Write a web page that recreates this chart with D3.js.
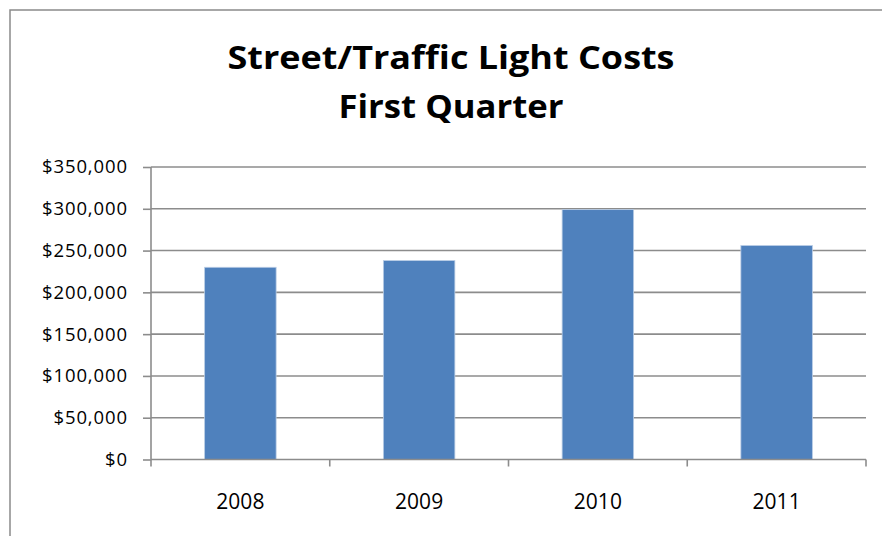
<!DOCTYPE html>
<html>
<head>
<meta charset="utf-8">
<script src="https://cdn.jsdelivr.net/npm/d3@7"></script>
<style>
  body { margin: 0; background: #fff; }
  text { font-family: "Open Sans", sans-serif; fill: #000; }
</style>
</head>
<body>
<svg id="chart"></svg>
<script>
// chart data
const years = ["2008", "2009", "2010", "2011"];
const costs = [230000, 238000, 299000, 256000];
const yTicks = [0, 50000, 100000, 150000, 200000, 250000, 300000, 350000];
const titleLines = ["Street/Traffic Light Costs", "First Quarter"];

const width = 882, height = 536;
const plot = {left: 151, right: 866, top: 167, bottom: 459.5};

const svg = d3.select("#chart")
    .attr("width", width)
    .attr("height", height);

// outer chart frame (runs off the picture right and bottom)
svg.append("rect")
    .attr("x", 10).attr("y", 10)
    .attr("width", 900).attr("height", 600)
    .attr("fill", "none")
    .attr("stroke", "#8a8a8a")
    .attr("stroke-width", 1.5);

// title
const titleW = [447, 225];
svg.selectAll("text.title")
    .data(titleLines)
    .enter()
    .append("text")
    .attr("class", "title")
    .attr("x", 451)
    .attr("y", (d, i) => 69 + i * 49)
    .attr("text-anchor", "middle")
    .attr("font-size", 33)
    .attr("font-weight", "bold")
    .attr("textLength", (d, i) => titleW[i])
    .attr("lengthAdjust", "spacingAndGlyphs")
    .text(d => d);

const x = d3.scaleBand()
    .domain(years)
    .range([plot.left, plot.right])
    .paddingInner(0.6)
    .paddingOuter(0.3);

const y = d3.scaleLinear()
    .domain([0, 350000])
    .range([plot.bottom, plot.top]);

// gridlines
svg.append("g")
    .selectAll("line")
    .data(yTicks.slice(1))
    .enter()
    .append("line")
    .attr("x1", plot.left).attr("x2", plot.right)
    .attr("y1", d => y(d)).attr("y2", d => y(d))
    .attr("stroke", "#8c8c8c")
    .attr("stroke-width", 1.6);

// bars
svg.append("g")
    .selectAll("rect")
    .data(years)
    .enter()
    .append("rect")
    .attr("x", d => x(d))
    .attr("y", (d, i) => y(costs[i]))
    .attr("width", x.bandwidth())
    .attr("height", (d, i) => y(0) - y(costs[i]))
    .attr("fill", "#4f81bd")
    .attr("stroke", "#b9cde5")
    .attr("stroke-width", 0.8);

// y axis
const yAxis = svg.append("g")
    .attr("transform", `translate(${plot.left},0)`)
    .call(d3.axisLeft(y)
        .tickValues(yTicks)
        .tickSize(8)
        .tickPadding(15)
        .tickFormat(d => "$" + d3.format(",")(d)));
yAxis.select(".domain").attr("stroke", "#8c8c8c").attr("stroke-width", 1.6)
    .attr("d", `M0,${plot.top}V${plot.bottom}`);
yAxis.selectAll(".tick line").attr("stroke", "#8c8c8c").attr("stroke-width", 1.6);
yAxis.selectAll(".tick text")
    .attr("font-size", 18.5)
    .attr("letter-spacing", 0.9)
    .attr("font-family", "Open Sans")
    .attr("fill", "#000");

// x axis: ticks sit at category boundaries
const boundaries = d3.range(years.length + 1).map(i => plot.left + i * x.step());
const xAxis = svg.append("g")
    .attr("transform", `translate(0,${plot.bottom})`);
xAxis.append("line")
    .attr("x1", plot.left).attr("x2", plot.right)
    .attr("stroke", "#8c8c8c").attr("stroke-width", 1.6);
xAxis.selectAll("line.tk")
    .data(boundaries)
    .enter()
    .append("line")
    .attr("class", "tk")
    .attr("x1", d => d).attr("x2", d => d)
    .attr("y1", 0).attr("y2", 7)
    .attr("stroke", "#8c8c8c").attr("stroke-width", 1.6);
xAxis.selectAll("text")
    .data(years)
    .enter()
    .append("text")
    .attr("x", d => x(d) + x.bandwidth() / 2)
    .attr("y", 49)
    .attr("text-anchor", "middle")
    .attr("font-size", 21)
    .text(d => d);
</script>
</body>
</html>
